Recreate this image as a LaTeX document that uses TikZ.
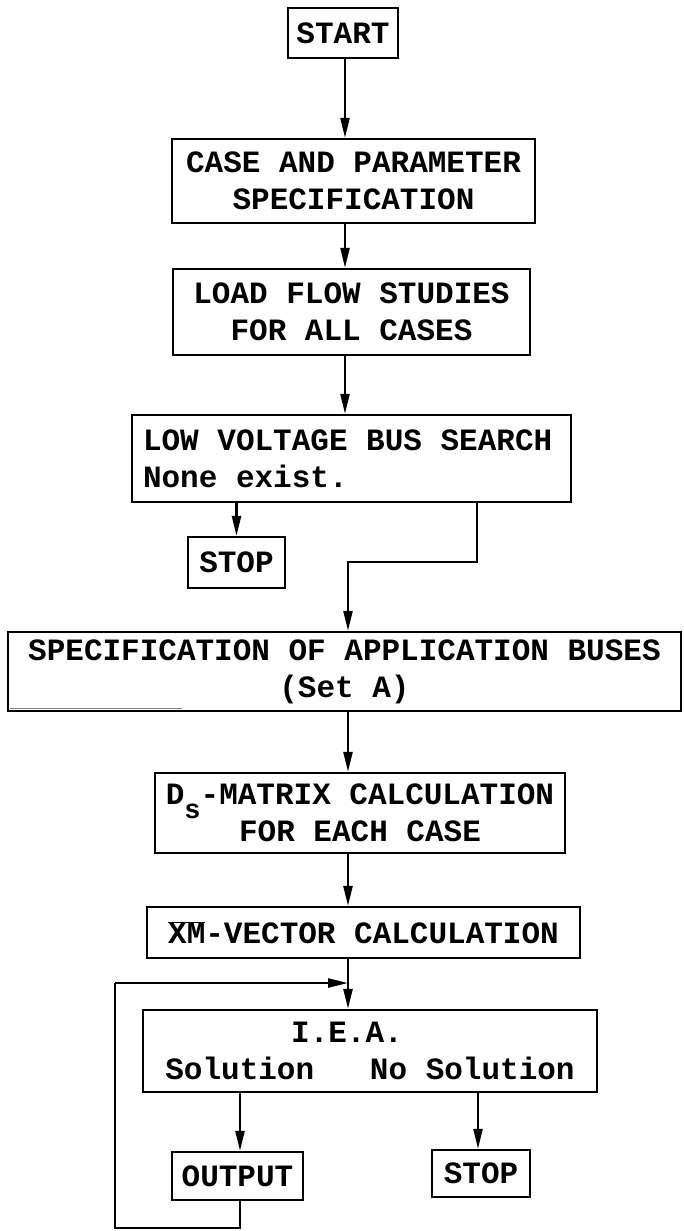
\documentclass[tikz,border=0pt]{standalone}
\usepackage{fontspec}
\setmainfont[WordSpace={1,0,0}]{Liberation Mono}
\usetikzlibrary{arrows.meta,calc}
\newcommand{\ovl}[1]{\ensuremath{\overline{\hbox{#1}}}}
\newcommand{\lline}[1]{\makebox[417pt][l]{#1}}
\frenchspacing
\begin{document}
\begin{tikzpicture}[x=1pt,y=-1pt,
  box/.style={draw,line width=2.4pt,inner sep=0pt,align=center,
    font=\bfseries\fontsize{31}{37}\selectfont},
  arr/.style={line width=2.4pt,-{Triangle[length=20pt,width=9pt]}},
  ln/.style={line width=2.4pt}]
\path[use as bounding box] (0,0) rectangle (683,1231);
\node[box,minimum width=110,minimum height=50] (start) at (343,33) {START};
\node[box,minimum width=363,minimum height=84] (case) at (353.5,181) {CASE AND PARAMETER\\SPECIFICATION};
\node[box,minimum width=357,minimum height=86] (load) at (351.5,312) {LOAD FLOW STUDIES\\FOR ALL CASES};
\node[box,minimum width=439,minimum height=87] (low) at (351.5,458.5) {\lline{LOW VOLTAGE BUS SEARCH}\\\lline{None exist.}};
\node[box,minimum width=97,minimum height=51] (stop1) at (236.5,562.5) {STOP};
\node[box,minimum width=673,minimum height=79] (spec) at (344.5,671.5) {SPECIFICATION OF APPLICATION BUSES\\(Set A)};
\node[box,minimum width=410,minimum height=80] (ds) at (360,813) {D\raisebox{-0.45em}{\fontsize{27}{27}\selectfont s}-MATRIX CALCULATION\\FOR EACH CASE};
\node[box,minimum width=433,minimum height=51] (xm) at (363.5,932.5) {\ovl{XM}-VECTOR CALCULATION};
\node[box,minimum width=454,minimum height=82] (iea) at (370,1051) {I.E.A.\hspace*{46pt}\\Solution~~~No Solution};
\node[box,minimum width=131,minimum height=48] (out) at (237.5,1176) {OUTPUT};
\node[box,minimum width=98,minimum height=47] (stop2) at (481,1173.5) {STOP};
\coordinate (c) at (345,0);
\coordinate (j1) at (477,562);
\coordinate (m) at (348,983);
\coordinate (oa) at (240,0);
\coordinate (sa) at (478,0);
\coordinate (lb) at (240,1228);
\coordinate (lt) at (115,983);
\draw[arr] (start.south -| c) -- (case.north -| c);
\draw[arr] (case.south -| c) -- (load.north -| c);
\draw[arr] (load.south -| c) -- (low.north -| c);
\draw[arr] (low.south -| stop1) -- (stop1.north);
\draw[arr] (low.south -| j1) -- (j1) -| (spec.north -| m);
\draw[arr] (spec.south -| m) -- (ds.north -| m);
\draw[arr] (ds.south -| m) -- (xm.north -| m);
\draw[arr] (xm.south -| m) -- (iea.north -| m);
\draw[arr] (iea.south -| oa) -- (out.north -| oa);
\draw[arr] (iea.south -| sa) -- (stop2.north -| sa);
\draw[ln] (out.south -| lb) -- (lb) -| (lt);
\draw[arr] (lt) -- (m);
\draw[line width=1pt,gray] ($(spec.south west)+(3,-4)$) -- ++(172,0);
\end{tikzpicture}
\end{document}
